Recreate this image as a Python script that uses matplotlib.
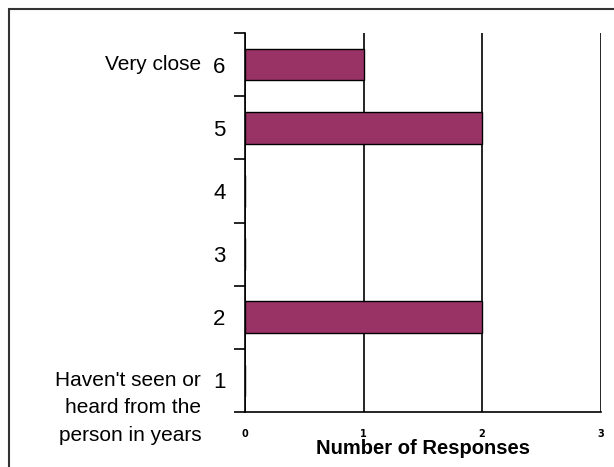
import matplotlib
matplotlib.use("Agg")
import matplotlib.pyplot as plt
from matplotlib.patches import Rectangle

# Closeness rating (1 = not in touch, 6 = very close) and response counts
ratings = [1, 2, 3, 4, 5, 6]
responses = [0, 2, 0, 0, 2, 1]
x_ticks = [0, 1, 2, 3]
label_top = "Very close"
label_bottom = "Haven't seen or\nheard from the\nperson in years"
x_title = "Number of Responses"

fig = plt.figure(figsize=(6.14, 4.67), dpi=100)
fig.patch.set_facecolor("white")

# outer chart frame
fig.patches.append(Rectangle((9 / 614, -0.2), 1.2, (467 - 9) / 467 + 0.2,
                             transform=fig.transFigure, fill=False,
                             edgecolor="#333333", linewidth=1.5))

ax = fig.add_axes([245 / 614, 55 / 467, 355.5 / 614, 379 / 467])
ax.barh(ratings, responses, height=0.5, color="#993366",
        edgecolor="black", linewidth=1.0, zorder=3)

ax.set_xlim(0, 3)
ax.set_ylim(0.5, 6.5)
ax.set_xticks(x_ticks)
ax.set_xticklabels([str(t) for t in x_ticks], fontsize=7, fontweight="bold",
                   family="DejaVu Sans")
ax.tick_params(axis="x", length=0, pad=12)
ax.set_yticks(ratings)
ax.set_yticklabels([str(r) for r in ratings], fontsize=16,
                   family="Liberation Sans")
ax.set_yticks([r + 0.5 for r in [0] + ratings], minor=True)
ax.tick_params(axis="y", which="major", length=0, pad=14)
ax.tick_params(axis="y", which="minor", length=8, width=1.2, direction="out")

ax.grid(axis="x", color="black", linewidth=1.2, zorder=1)
for side in ["top", "right"]:
    ax.spines[side].set_visible(False)
for side in ["left", "bottom"]:
    ax.spines[side].set_linewidth(1.2)

ax.set_xlabel(x_title, fontsize=14.5, fontweight="bold",
              family="Liberation Sans", labelpad=0)

ax.text(-0.37, 6, label_top, ha="right", va="center", fontsize=15,
        family="Liberation Sans", transform=ax.transData)
ax.text(-0.37, 0.565, label_bottom, ha="right", va="center", fontsize=15,
        family="Liberation Sans", linespacing=1.55, transform=ax.transData,
        clip_on=False)

fig.savefig("out.png", dpi=100)
